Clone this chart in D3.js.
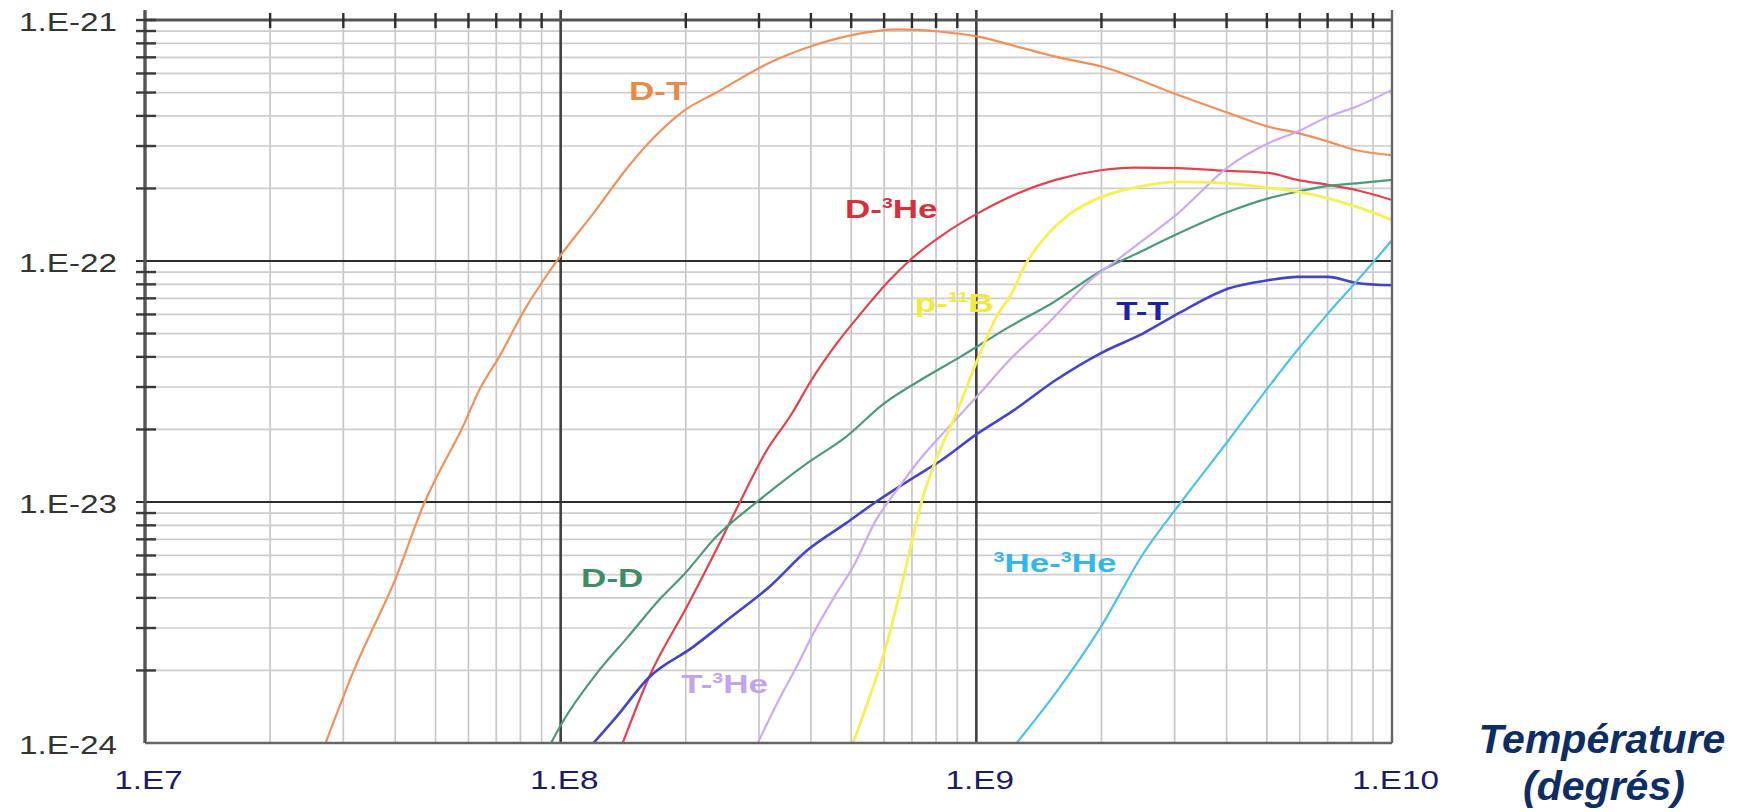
<!DOCTYPE html>
<html>
<head>
<meta charset="utf-8">
<script src="https://cdn.jsdelivr.net/npm/d3@7"></script>
<style>
  html, body { margin: 0; padding: 0; background: #fff; }
  svg { display: block; font-family: "Liberation Sans", Arial, Helvetica, sans-serif; }
</style>
</head>
<body>
<svg id="chart" width="1745" height="812"></svg>
<script>
// Fusion reactivity <σv> (m³/s) against temperature (K), one pair of arrays per reaction.
const dtTemp  = [2.72e7, 3.18e7, 4.02e7, 4.71e7, 5.18e7, 5.76e7, 6.40e7, 7.11e7, 8.26e7, 9.08e7, 1.01e8, 1.20e8, 1.45e8, 1.68e8, 1.99e8, 2.36e8, 3.17e8, 4.09e8, 5.05e8, 6.51e8, 8.21e8, 1.01e9, 1.26e9, 1.55e9, 2.01e9, 3.06e9, 4.04e9, 5.04e9, 5.92e9, 7.02e9, 8.20e9, 1.0e10];
const dtRate  = [1.0e-24, 2.0e-24, 4.88e-24, 1.0e-23, 1.40e-23, 1.98e-23, 2.96e-23, 4.0e-23, 6.44e-23, 8.3e-23, 1.08e-22, 1.58e-22, 2.45e-22, 3.27e-22, 4.23e-22, 4.98e-22, 6.63e-22, 7.87e-22, 8.67e-22, 9.14e-22, 8.94e-22, 8.53e-22, 7.74e-22, 7.05e-22, 6.40e-22, 4.88e-22, 4.11e-22, 3.61e-22, 3.40e-22, 3.13e-22, 2.88e-22, 2.75e-22];

const dhe3Temp = [1.41e8, 1.63e8, 2.03e8, 2.43e8, 2.70e8, 3.10e8, 3.60e8, 4.01e8, 4.55e8, 5.28e8, 6.18e8, 6.93e8, 8.39e8, 1.01e9, 1.26e9, 1.55e9, 1.99e9, 2.39e9, 3.06e9, 3.93e9, 5.04e9, 5.92e9, 7.02e9, 8.20e9, 1.0e10];
const dhe3Rate = [1.0e-24, 1.87e-24, 3.78e-24, 6.93e-24, 1.0e-23, 1.59e-23, 2.33e-23, 3.20e-23, 4.40e-23, 6.07e-23, 8.32e-23, 1.01e-22, 1.30e-22, 1.58e-22, 1.91e-22, 2.17e-22, 2.38e-22, 2.44e-22, 2.43e-22, 2.37e-22, 2.32e-22, 2.17e-22, 2.07e-22, 1.97e-22, 1.79e-22];

const ddTemp = [9.48e7, 1.01e8, 1.22e8, 1.45e8, 1.75e8, 1.99e8, 2.36e8, 3.04e8, 3.92e8, 4.85e8, 5.99e8, 7.55e8, 9.15e8, 1.20e9, 1.52e9, 2.01e9, 2.45e9, 3.06e9, 4.04e9, 5.04e9, 5.92e9, 7.02e9, 8.20e9, 1.0e10];
const ddRate = [1.0e-24, 1.22e-24, 1.94e-24, 2.75e-24, 4.03e-24, 5.05e-24, 7.14e-24, 1.035e-23, 1.45e-23, 1.86e-23, 2.56e-23, 3.30e-23, 4.0e-23, 5.33e-23, 6.68e-23, 9.16e-23, 1.08e-22, 1.30e-22, 1.60e-22, 1.82e-22, 1.94e-22, 2.05e-22, 2.10e-22, 2.17e-22];

const ttTemp = [1.20e8, 1.36e8, 1.63e8, 2.08e8, 2.57e8, 3.17e8, 3.92e8, 4.85e8, 5.73e8, 7.10e8, 8.24e8, 1.01e9, 1.23e9, 1.55e9, 1.99e9, 2.52e9, 3.11e9, 4.04e9, 5.04e9, 5.92e9, 7.02e9, 8.20e9, 1.0e10];
const ttRate = [1.0e-24, 1.28e-24, 1.87e-24, 2.50e-24, 3.33e-24, 4.43e-24, 6.30e-24, 8.15e-24, 1.0e-23, 1.27e-23, 1.49e-23, 1.93e-23, 2.40e-23, 3.20e-23, 4.14e-23, 5.01e-23, 6.15e-23, 7.69e-23, 8.32e-23, 8.59e-23, 8.59e-23, 8.11e-23, 7.93e-23];

const the3Temp = [2.98e8, 3.31e8, 3.76e8, 4.01e8, 4.55e8, 5.05e8, 5.73e8, 6.51e8, 7.40e8, 8.59e8, 1.01e9, 1.20e9, 1.49e9, 1.88e9, 2.15e9, 2.52e9, 3.06e9, 4.04e9, 5.04e9, 5.92e9, 7.02e9, 8.20e9, 1.0e10];
const the3Rate = [1.0e-24, 1.45e-24, 2.20e-24, 2.75e-24, 4.03e-24, 5.37e-24, 8.39e-24, 1.15e-23, 1.54e-23, 2.05e-23, 2.77e-23, 3.87e-23, 5.52e-23, 8.32e-23, 9.91e-23, 1.22e-22, 1.58e-22, 2.46e-22, 3.08e-22, 3.44e-22, 3.97e-22, 4.37e-22, 5.13e-22];

const pb11Temp = [5.05e8, 5.50e8, 5.99e8, 6.51e8, 7.01e8, 7.40e8, 8.05e8, 8.95e8, 1.005e9, 1.13e9, 1.21e9, 1.31e9, 1.49e9, 1.69e9, 2.01e9, 2.45e9, 3.06e9, 4.04e9, 5.04e9, 5.92e9, 7.02e9, 8.20e9, 1.0e10];
const pb11Rate = [1.0e-24, 1.50e-24, 2.34e-24, 4.03e-24, 6.93e-24, 1.015e-23, 1.54e-23, 2.33e-23, 3.87e-23, 6.07e-23, 7.21e-23, 9.62e-23, 1.30e-22, 1.58e-22, 1.85e-22, 2.03e-22, 2.13e-22, 2.10e-22, 2.01e-22, 1.94e-22, 1.82e-22, 1.68e-22, 1.48e-22];

const he3he3Temp = [1.25e9, 1.61e9, 1.99e9, 2.52e9, 3.11e9, 4.04e9, 4.98e9, 5.83e9, 7.01e9, 8.20e9, 1.0e10];
const he3he3Rate = [1.0e-24, 1.76e-24, 3.02e-24, 6.10e-24, 1.0e-23, 1.80e-23, 2.91e-23, 4.13e-23, 6.05e-23, 8.19e-23, 1.22e-22];

// Axis tick labels
const xTickValues = [1e7, 1e8, 1e9, 1e10];
const xTickLabels = ["1.E7", "1.E8", "1.E9", "1.E10"];
const yTickValues = [1e-24, 1e-23, 1e-22, 1e-21];
const yTickLabels = ["1.E-24", "1.E-23", "1.E-22", "1.E-21"];
const axisTitle = ["Température", "(degrés)"];

// Reactions: name pieces (text, superscript flag), label anchor in data units (T, <σv>)
const reactions = [
  { key: "dt",    temp: dtTemp,     rate: dtRate,     line: "#f0915c", text: "#ea8845", width: 2.2, label: [["D-T", false]],                                  at: [1.46e8, 4.66e-22] },
  { key: "dhe3",  temp: dhe3Temp,   rate: dhe3Rate,   line: "#e2424e", text: "#d7303d", width: 2.2, label: [["D-", false], ["3", true], ["He", false]],      at: [4.83e8, 1.51e-22] },
  { key: "dd",    temp: ddTemp,     rate: ddRate,     line: "#4e9a78", text: "#3d8c66", width: 2.2, label: [["D-D", false]],                                  at: [1.12e8, 4.46e-24] },
  { key: "tt",    temp: ttTemp,     rate: ttRate,     line: "#4444c8", text: "#1e22a6", width: 2.6, label: [["T-T", false]],                                  at: [2.17e9, 5.71e-23] },
  { key: "the3",  temp: the3Temp,   rate: the3Rate,   line: "#cbaaf2", text: "#c3a3ec", width: 2.2, label: [["T-", false], ["3", true], ["He", false]],      at: [1.95e8, 1.61e-24] },
  { key: "pb11",  temp: pb11Temp,   rate: pb11Rate,   line: "#f6f055", text: "#f0ea3c", width: 2.8, label: [["p-", false], ["11", true], ["B", false]],      at: [7.11e8, 6.17e-23] },
  { key: "he3he3",temp: he3he3Temp, rate: he3he3Rate, line: "#4cc2ea", text: "#36b6e6", width: 2.2, label: [["3", true], ["He-", false], ["3", true], ["He", false]], at: [1.10e9, 5.13e-24] }
];

const svg = d3.select("#chart");
const x = d3.scaleLog().domain([1e7, 1e10]).range([145, 1392]);
const y = d3.scaleLog().domain([1e-24, 1e-21]).range([743, 20]);
const [x0, x1] = x.range();
const [y0, y1] = [y.range()[1], y.range()[0]]; // top, bottom

// minor grid values (2..9 within each decade)
const xMinor = [], yMinor = [];
for (let e = 7; e < 10; e++) for (let k = 2; k <= 9; k++) xMinor.push(k * Math.pow(10, e));
for (let e = -24; e < -21; e++) for (let k = 2; k <= 9; k++) yMinor.push(k * Math.pow(10, e));

const grid = svg.append("g");
// light minor grid
grid.selectAll("line.vmin").data(xMinor).join("line")
  .attr("x1", d => x(d)).attr("x2", d => x(d)).attr("y1", y0).attr("y2", y1)
  .attr("stroke", "#c8c8c8").attr("stroke-width", 1.7);
grid.selectAll("line.hmin").data(yMinor).join("line")
  .attr("x1", x0).attr("x2", x1).attr("y1", d => y(d)).attr("y2", d => y(d))
  .attr("stroke", "#cdcdcd").attr("stroke-width", 1.7);
// dark decade lines
grid.selectAll("line.vmaj").data([1e8, 1e9]).join("line")
  .attr("x1", d => x(d)).attr("x2", d => x(d)).attr("y1", y0 - 10).attr("y2", y1)
  .attr("stroke", "#404040").attr("stroke-width", 2.6);
grid.selectAll("line.hmaj").data([1e-23, 1e-22]).join("line")
  .attr("x1", x0 - 9).attr("x2", x1).attr("y1", d => y(d)).attr("y2", d => y(d))
  .attr("stroke", "#2c2c2c").attr("stroke-width", 2.2);

// curves
svg.append("clipPath").attr("id", "plotClip").append("rect")
  .attr("x", x0).attr("y", y0).attr("width", x1 - x0).attr("height", y1 - y0);

const line = d3.line().x(d => x(d[0])).y(d => y(d[1])).curve(d3.curveMonotoneX);
const curves = svg.append("g").attr("clip-path", "url(#plotClip)");
reactions.forEach(r => {
  const pts = r.temp.map((t, i) => [t, r.rate[i]]);
  curves.append("path").datum(pts)
    .attr("d", line).attr("fill", "none")
    .attr("stroke", r.line).attr("stroke-width", r.width)
    .attr("stroke-linejoin", "round");
});

// frame
const frame = svg.append("g");
frame.append("line").attr("x1", x0).attr("x2", x1).attr("y1", y0).attr("y2", y0)
  .attr("stroke", "#555").attr("stroke-width", 3.2);
frame.append("line").attr("x1", x0).attr("x2", x1).attr("y1", y1).attr("y2", y1)
  .attr("stroke", "#666").attr("stroke-width", 2.6);
frame.append("line").attr("x1", x0).attr("x2", x0).attr("y1", y0 - 10).attr("y2", y1)
  .attr("stroke", "#555").attr("stroke-width", 3.4);
frame.append("line").attr("x1", x1).attr("x2", x1).attr("y1", y0 - 10).attr("y2", y1)
  .attr("stroke", "#666").attr("stroke-width", 2.4);
// tick marks crossing the left and top edges
frame.selectAll("line.lt").data(yMinor.concat([1e-21])).join("line")
  .attr("x1", x0 - 9).attr("x2", x0 + 11).attr("y1", d => y(d)).attr("y2", d => y(d))
  .attr("stroke", "#3a3a3a").attr("stroke-width", 2.4);
frame.selectAll("line.tt").data(xMinor).join("line")
  .attr("x1", d => x(d)).attr("x2", d => x(d)).attr("y1", y0 - 7).attr("y2", y0 + 8)
  .attr("stroke", "#2e2e2e").attr("stroke-width", 2.4);

// axis labels
const yAxis = svg.append("g").attr("transform", `translate(${x0},0)`)
  .call(d3.axisLeft(y).tickValues(yTickValues).tickSize(0)
    .tickFormat((d, i) => yTickLabels[i]));
yAxis.select(".domain").remove();
yAxis.selectAll("text")
  .attr("x", null).attr("dy", "0.41em")
  .attr("transform", "translate(-28,0) scale(1.28,1)")
  .attr("text-anchor", "end")
  .style("font-family", "\"Liberation Sans\", Arial, sans-serif")
  .style("font-size", "26px").attr("fill", "#333");

const xAxis = svg.append("g").attr("transform", `translate(0,${y1})`)
  .call(d3.axisBottom(x).tickValues(xTickValues).tickSize(0)
    .tickFormat((d, i) => xTickLabels[i]));
xAxis.select(".domain").remove();
xAxis.selectAll("text")
  .attr("y", null).attr("dy", null)
  .attr("transform", "translate(3,46) scale(1.28,1)")
  .attr("text-anchor", "middle")
  .style("font-family", "\"Liberation Sans\", Arial, sans-serif")
  .style("font-size", "26px").attr("fill", "#1b1b66");

// reaction labels
const labels = svg.append("g");
reactions.forEach(r => {
  const t = labels.append("text")
    .attr("transform", `translate(${x(r.at[0])},${y(r.at[1])}) scale(1.4,1)`)
    .attr("fill", r.text)
    .style("font-size", "25px").style("font-weight", "bold");
  let raised = false;
  r.label.forEach(([s, sup]) => {
    const ts = t.append("tspan").text(s);
    if (sup && !raised) { ts.attr("dy", -10).style("font-size", "14px"); raised = true; }
    else if (!sup && raised) { ts.attr("dy", 10); raised = false; }
    else if (sup) ts.style("font-size", "14px");
  });
});

// horizontal axis title
const title = svg.append("text")
  .attr("text-anchor", "middle")
  .attr("fill", "#0d2d63")
  .style("font-size", "41px").style("font-weight", "bold").style("font-style", "italic");
title.append("tspan").attr("x", 1602).attr("y", 753).text(axisTitle[0]);
title.append("tspan").attr("x", 1604).attr("y", 800).text(axisTitle[1]);
</script>
</body>
</html>
